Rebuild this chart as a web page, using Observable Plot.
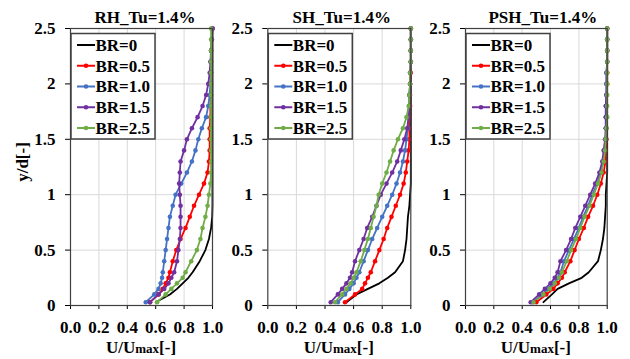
<!DOCTYPE html>
<html><head><meta charset="utf-8">
<script src="https://cdn.jsdelivr.net/npm/d3@7"></script>
<script src="https://cdn.jsdelivr.net/npm/@observablehq/plot@0.6"></script>
<style>
body{margin:0;background:#fff;}
#chart{position:relative;width:630px;height:359px;overflow:hidden;}
#chart svg{position:absolute;top:0;overflow:visible;}
</style></head><body><div id="chart"></div>
<script>
// y/d levels (shared by all series)
const yLevels = [0.03,0.1,0.15,0.2,0.25,0.3,0.4,0.5,0.6,0.7,0.8,0.9,1.0,1.1,1.2,1.3,1.4,1.5,1.6,1.7,1.8,1.9,2.0,2.1,2.2,2.3,2.4,2.5];
const seriesNames = ["BR=0","BR=0.5","BR=1.0","BR=1.5","BR=2.5"];
const seriesColors = ["#000000","#ff0000","#4472c4","#7030a0","#70ad47"];
const xTicks = [0,0.2,0.4,0.6,0.8,1.0];
const yTicks = [0,0.5,1,1.5,2,2.5];
const xGrid = [0.2,0.4,0.6,0.8];
const yGrid = [0.5,1,1.5,2];
const panelTitles = ["RH_Tu=1.4%","SH_Tu=1.4%","PSH_Tu=1.4%"];

// RH
const rhBR0  = [0.60,0.70,0.75,0.79,0.83,0.86,0.91,0.95,0.975,0.99,0.998,1,1,1,1,1,1,1,1,1,1,1,1,1,1,1,1,1];
const rhBR05 = [0.56,0.62,0.65,0.67,0.69,0.70,0.72,0.745,0.775,0.81,0.84,0.87,0.905,0.94,0.965,0.975,0.98,0.98,0.98,0.985,0.985,0.99,0.99,0.99,0.99,0.99,0.995,1.0];
const rhBR10 = [0.53,0.59,0.62,0.635,0.645,0.65,0.66,0.67,0.68,0.69,0.70,0.72,0.74,0.78,0.82,0.855,0.88,0.90,0.925,0.955,0.97,0.98,0.985,0.99,0.99,0.99,0.995,1.0];
const rhBR15 = [0.56,0.62,0.66,0.69,0.71,0.73,0.75,0.76,0.77,0.775,0.775,0.775,0.77,0.765,0.77,0.775,0.80,0.82,0.855,0.895,0.93,0.955,0.97,0.98,0.985,0.99,0.995,1.0];
const rhBR25 = [0.61,0.67,0.71,0.75,0.79,0.81,0.85,0.89,0.915,0.93,0.95,0.965,0.975,0.985,0.99,0.99,0.99,0.99,0.99,0.99,0.99,0.99,0.99,0.99,0.99,0.99,0.99,0.99];
// SH
const shBR0  = [0.55,0.62,0.70,0.78,0.84,0.89,0.945,0.96,0.97,0.975,0.98,0.99,0.995,1,1,1,1,1,1,1,1,1,1,1,1,1,1,1];
const shBR05 = [0.54,0.61,0.66,0.68,0.70,0.72,0.75,0.78,0.81,0.835,0.865,0.895,0.925,0.95,0.965,0.975,0.985,0.99,0.99,0.99,0.995,0.995,0.995,1,1,1,1,1];
const shBR10 = [0.49,0.54,0.57,0.60,0.62,0.64,0.67,0.70,0.73,0.765,0.80,0.835,0.87,0.90,0.925,0.945,0.96,0.97,0.98,0.985,0.99,0.99,0.995,0.995,1,1,1,1];
const shBR15 = [0.44,0.49,0.52,0.55,0.575,0.59,0.61,0.64,0.67,0.695,0.73,0.76,0.79,0.83,0.87,0.905,0.93,0.955,0.975,0.985,0.99,0.99,0.995,0.995,1,1,1,1];
const shBR25 = [0.47,0.52,0.55,0.58,0.60,0.62,0.65,0.675,0.70,0.72,0.74,0.76,0.775,0.80,0.83,0.855,0.88,0.91,0.945,0.97,0.985,0.99,0.995,0.995,1,1,1,1];
// PSH
const pshBR0  = [0.55,0.61,0.65,0.73,0.82,0.87,0.935,0.955,0.97,0.98,0.985,0.99,0.99,0.995,1,1,1,1,1,1,1,1,1,1,1,1,1,1];
const pshBR05 = [0.50,0.57,0.62,0.65,0.68,0.70,0.74,0.77,0.80,0.835,0.865,0.90,0.93,0.955,0.975,0.988,0.99,0.995,0.995,0.995,0.995,0.995,1,1,1,1,1,1];
const pshBR10 = [0.475,0.54,0.58,0.62,0.65,0.67,0.695,0.73,0.765,0.80,0.83,0.865,0.895,0.93,0.955,0.97,0.98,0.99,0.99,0.99,0.99,0.995,0.995,0.995,1,1,1,1];
const pshBR15 = [0.46,0.52,0.56,0.60,0.63,0.65,0.67,0.71,0.745,0.775,0.81,0.845,0.88,0.915,0.945,0.965,0.975,0.985,0.99,0.99,0.99,0.995,0.995,0.995,1,1,1,1];
const pshBR25 = [0.48,0.55,0.595,0.63,0.66,0.68,0.715,0.745,0.78,0.81,0.84,0.875,0.905,0.935,0.96,0.975,0.985,0.99,0.995,1,1,1,1,1,1,1,1,1];

const panels = [
  {title: panelTitles[0], left: 0,   width: 215, ml: 70,   mr: 3,    titleDx: 4, values: [rhBR0, rhBR05, rhBR10, rhBR15, rhBR25], yLabel: true},
  {title: panelTitles[1], left: 215, width: 200, ml: 52.3, mr: 4.7,  titleDx: 3, values: [shBR0, shBR05, shBR10, shBR15, shBR25]},
  {title: panelTitles[2], left: 415, width: 215, ml: 50,   mr: 23.3, titleDx: 7, values: [pshBR0, pshBR05, pshBR10, pshBR15, pshBR25]}
];

const H = 359, MT = 28, MB = 54;
const font = "'Liberation Serif','Times New Roman',serif";
const chart = document.getElementById("chart");

panels.forEach(p => {
  const rows = [];
  p.values.forEach((vals, i) => vals.forEach((u, j) => rows.push({series: seriesNames[i], y: yLevels[j], u})));
  const svg = Plot.plot({
    width: p.width, height: H,
    marginLeft: p.ml, marginRight: p.mr, marginTop: MT, marginBottom: MB,
    style: {fontFamily: font, fontSize: "17px", fontWeight: "bold", background: "transparent", color: "#000", overflow: "visible"},
    x: {domain: [0, 1], ticks: xTicks, tickFormat: d3.format(".1f"), tickSize: 4, tickPadding: 11, label: null},
    y: {domain: [0, 2.5], ticks: yTicks, tickFormat: d => String(d), tickSize: 5, tickPadding: 10, label: null},
    color: {domain: seriesNames, range: seriesColors},
    marks: [
      Plot.ruleX(xGrid, {stroke: "#d9d9d9", strokeWidth: 1}),
      Plot.ruleY(yGrid, {stroke: "#d9d9d9", strokeWidth: 1}),
      Plot.line(rows, {x: "u", y: "y", z: "series", stroke: "series", strokeWidth: 1.8}),
      Plot.dot(rows.filter(d => d.series !== "BR=0"), {x: "u", y: "y", fill: "series", r: 2.3}),
      Plot.frame({stroke: "#404040", strokeWidth: 1.2})
    ]
  });
  svg.style.left = p.left + "px";
  chart.appendChild(svg);

  const s = d3.select(svg);
  const plotW = p.width - p.ml - p.mr;
  const cx = p.ml + plotW / 2;
  // title
  s.append("text").attr("x", cx + p.titleDx).attr("y", 23).attr("text-anchor", "middle")
    .attr("font-size", 17).attr("font-weight", "bold").attr("fill", "#000").text(p.title);
  // x label
  const xl = s.append("text").attr("x", cx).attr("y", 353).attr("text-anchor", "middle")
    .attr("font-weight", "bold").attr("fill", "#000");
  xl.append("tspan").attr("font-size", 17).text("U/U");
  xl.append("tspan").attr("font-size", 13).text("max");
  xl.append("tspan").attr("font-size", 17).text("[-]");
  // y label
  if (p.yLabel) {
    s.append("text").attr("transform", "translate(22,162) rotate(-90)").attr("text-anchor", "middle")
      .attr("dy", "0.35em").attr("font-size", 17).attr("font-weight", "bold").attr("fill", "#000").text("y/d[-]");
  }
  // legend
  const g = s.append("g").attr("transform", `translate(${p.ml + 1},33.5)`);
  g.append("rect").attr("width", 84).attr("height", 105.5).attr("fill", "#fff")
    .attr("stroke", "#404040").attr("stroke-width", 1.5);
  seriesNames.forEach((name, i) => {
    const cy = 11.5 + i * 20.75;
    g.append("line").attr("x1", 6).attr("x2", 24).attr("y1", cy).attr("y2", cy)
      .attr("stroke", seriesColors[i]).attr("stroke-width", 2);
    if (i > 0) g.append("circle").attr("cx", 15).attr("cy", cy).attr("r", 2.3).attr("fill", seriesColors[i]);
    g.append("text").attr("x", 24.5).attr("y", cy).attr("dy", "0.35em").attr("font-size", 17)
      .attr("text-anchor", "start").attr("font-weight", "bold").attr("fill", "#000").text(name);
  });
});
</script></body></html>
